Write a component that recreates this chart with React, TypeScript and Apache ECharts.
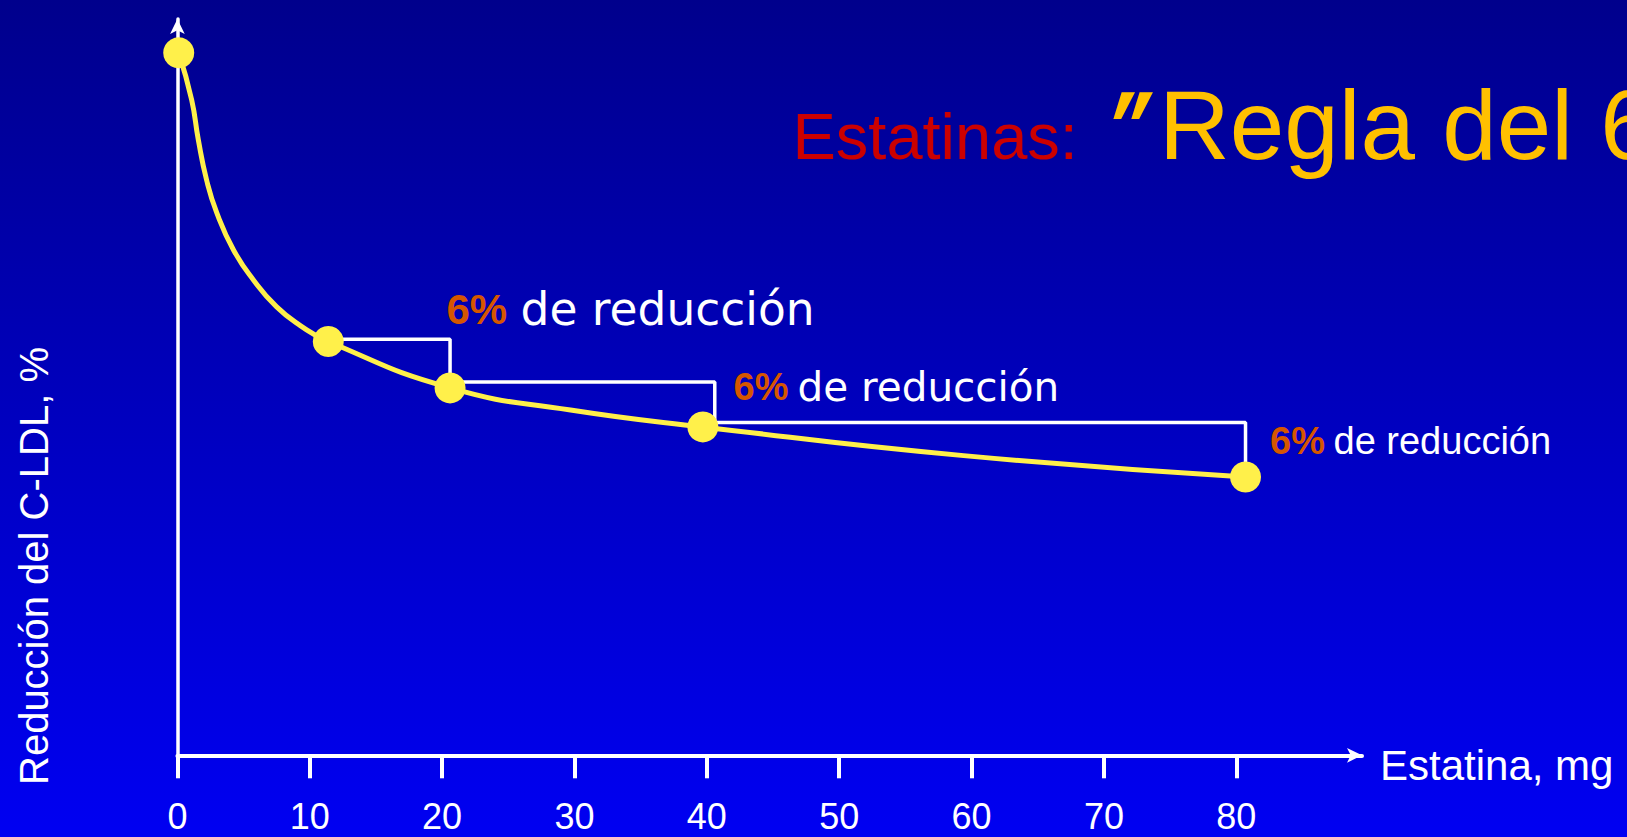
import React, { useEffect, useRef } from "react";
import * as echarts from "echarts";

// Dose axis ticks (mg)
const doseTicks = [0, 10, 20, 30, 40, 50, 60, 70, 80];

// Measured doses and LDL level on the plot's arbitrary % scale
const markerDose = [0.1, 11.4, 20.6, 39.7, 80.7];
const markerLevel = [95.4, 56.2, 49.9, 44.6, 37.8];

// Dose–response curve trace
const curveDose = [0.1, 1.08, 1.58, 2.21, 2.97, 4.25, 5.73, 7.5, 9.26, 11.4, 20.6, 29.7, 39.7, 59.4, 80.7];
const curveLevel = [95.4, 89.0, 83.6, 78.1, 73.7, 68.6, 64.6, 60.9, 58.4, 56.2, 49.9, 46.9, 44.6, 40.7, 37.8];

// Staircase showing each "6 %" step between doublings
const stepDose = [11.4, 20.6, 40.6, 80.7];
const stepLevel = [56.5, 50.7, 45.2, 37.8];

const stepPercent = ["6%", "6%", "6%"];
const stepText = ["de reducción", "de reducción", "de reducción"];

const titleLead = "Estatinas:";
const titleQuote = "″";
const titleMain = "Regla del 6%″";
const xName = "Estatina, mg";
const yName = "Reducción del C-LDL, %";

const YELLOW = "#FFF04A";
const ORANGE = "#D65600";
const WHITE = "#FFFFFF";

export default function App() {
  const ref = useRef<HTMLDivElement>(null);

  useEffect(() => {
    if (!ref.current) return;
    const chart = echarts.init(ref.current, null, { renderer: "svg" });

    const curve = curveDose.map((d, i) => [d, curveLevel[i]]);
    const markers = markerDose.map((d, i) => [d, markerLevel[i]]);
    const stairs: number[][] = [];
    for (let i = 0; i < stepDose.length - 1; i++) {
      stairs.push([stepDose[i], stepLevel[i]]);
      stairs.push([stepDose[i + 1], stepLevel[i]]);
    }
    stairs.push([stepDose[stepDose.length - 1], stepLevel[stepLevel.length - 1]]);

    const txt = (
      x: number,
      y: number,
      text: string,
      fill: string,
      fontSize: number,
      fontFamily: string,
      fontWeight: string = "normal",
      extra: any = {}
    ) => {
      const { align, ...rest } = extra;
      return {
        type: "text",
        x,
        y,
        silent: true,
        ...rest,
        style: {
          text,
          fill,
          fontSize,
          fontFamily,
          fontWeight,
          align: align || "left",
          verticalAlign: "middle",
          textAlign: align || "left",
          textVerticalAlign: "middle",
        },
      };
    };

    // annotation placements
    const labelLayout = [
      { px: 446.5, tx: 520.5, y: 309, ps: 42, ts: 45.5, tf: "DejaVu Sans" },
      { px: 733.5, tx: 797.5, y: 386.6, ps: 38, ts: 40.5, tf: "DejaVu Sans" },
      { px: 1270, tx: 1333.5, y: 440.8, ps: 38, ts: 38, tf: "Liberation Sans" },
    ];

    const graphics: any[] = [
      txt(792.5, 136.5, titleLead, "#CC0000", 65, "Liberation Sans"),
      txt(1111.5, 148, titleQuote, "#FFC000", 98, "DejaVu Sans", "bold", { scaleY: 1.5 }),
      txt(1159, 125, titleMain, "#FFC000", 98, "Liberation Sans"),
      txt(34, 566, yName, WHITE, 40, "Liberation Sans", "normal", {
        rotation: Math.PI / 2,
        align: "center",
      }),
      txt(1380, 765.4, xName, WHITE, 42, "Liberation Sans"),
    ];
    labelLayout.forEach((l, i) => {
      graphics.push(txt(l.px, l.y, stepPercent[i], ORANGE, l.ps, "Liberation Sans", "bold"));
      graphics.push(txt(l.tx, l.y, stepText[i], WHITE, l.ts, l.tf));
    });

    chart.setOption({
      animation: false,
      backgroundColor: new echarts.graphic.LinearGradient(0, 0, 0, 1, [
        { offset: 0, color: "#00008C" },
        { offset: 1, color: "#0000F2" },
      ]),
      grid: {
        left: 177.4,
        right: 265,
        top: 19,
        bottom: 81.7,
        containLabel: false,
        outerBoundsMode: "none",
      },
      xAxis: {
        type: "value",
        min: 0,
        max: 89.5,
        splitLine: { show: false },
        axisLine: {
          show: true,
          onZero: false,
          symbol: ["none", "arrow"],
          symbolSize: [11, 15],
          lineStyle: { color: WHITE, width: 4 },
        },
        axisTick: {
          show: true,
          length: 23,
          customValues: doseTicks,
          lineStyle: { color: WHITE, width: 4 },
        },
        axisLabel: {
          show: true,
          customValues: doseTicks,
          color: WHITE,
          fontSize: 36,
          lineHeight: 30,
          fontFamily: "Liberation Sans",
          margin: 46.2,
        },
      },
      yAxis: {
        type: "value",
        min: 0,
        max: 100,
        splitLine: { show: false },
        axisTick: { show: false },
        axisLabel: { show: false },
        axisLine: {
          show: true,
          onZero: false,
          symbol: ["none", "arrow"],
          symbolSize: [11, 15],
          lineStyle: { color: WHITE, width: 3.5 },
        },
      },
      series: [
        {
          type: "line",
          data: stairs,
          symbol: "none",
          silent: true,
          lineStyle: { color: WHITE, width: 3.5 },
          z: 2,
        },
        {
          type: "line",
          data: curve,
          smooth: 0.5,
          symbol: "none",
          silent: true,
          lineStyle: { color: YELLOW, width: 5, cap: "round" },
          z: 3,
        },
        {
          type: "scatter",
          data: markers,
          symbol: "circle",
          symbolSize: 31,
          itemStyle: { color: YELLOW, opacity: 1 },
          z: 4,
        },
      ],
      graphic: graphics,
    });

    return () => chart.dispose();
  }, []);

  return (
    <div
      ref={ref}
      style={{ position: "absolute", left: 0, top: 0, width: 1627, height: 837 }}
    />
  );
}
